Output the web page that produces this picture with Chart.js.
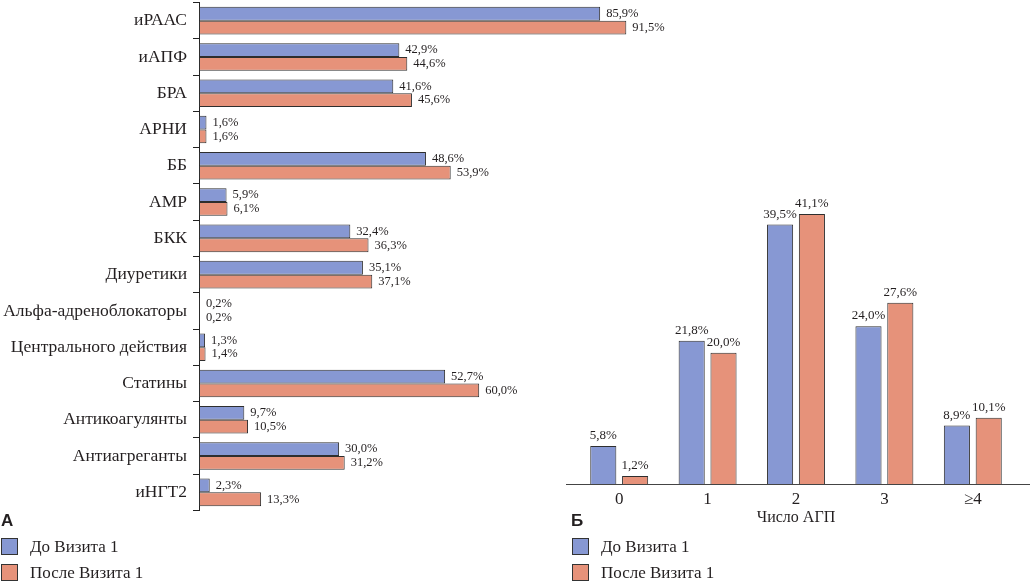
<!DOCTYPE html>
<html>
<head>
<meta charset="utf-8">
<script src="https://cdn.jsdelivr.net/npm/chart.js@4.4.1/dist/chart.umd.min.js"></script>
<style>
    body { margin: 0; background: #fff; width: 1033px; height: 588px; position: relative; overflow: hidden; font-family: 'Liberation Serif', 'Times New Roman', serif; color: #231f20; }
    #drugWrap { position: absolute; left: 0; top: -14px; width: 700px; height: 541px; }
    #agpWrap { position: absolute; left: 560px; top: 180px; width: 473px; height: 350px; }
    .panel { position: absolute; font-family: 'Liberation Sans', Arial, sans-serif; font-weight: bold; font-size: 17px; }
    .leg { position: absolute; font-size: 17px; line-height: 18px; }
    .leg span { position: absolute; top: 0; width: 17px; height: 17px; border: 1px solid #333; box-sizing: border-box; }
    .leg b { font-weight: normal; position: absolute; top: 0; white-space: nowrap; }
</style>
</head>
<body>
<div id="drugWrap"><canvas id="drugChart"></canvas></div>
<div id="agpWrap"><canvas id="agpChart"></canvas></div>

<div class="panel" style="left:1px; top:511px;">А</div>
<div class="panel" style="left:571px; top:511px;">Б</div>

<div class="leg" style="left:1px; top:538px;"><span style="background:#8798d3;"></span><b style="left:29px;">До Визита 1</b></div>
<div class="leg" style="left:1px; top:564px;"><span style="background:#e6927a;"></span><b style="left:29px;">После Визита 1</b></div>
<div class="leg" style="left:572px; top:538px;"><span style="background:#8798d3;"></span><b style="left:29px;">До Визита 1</b></div>
<div class="leg" style="left:572px; top:564px;"><span style="background:#e6927a;"></span><b style="left:29px;">После Визита 1</b></div>

<script>
// Drug classes (panel A)
const drugLabels = ['иРААС', 'иАПФ', 'БРА', 'АРНИ', 'ББ', 'АМР', 'БКК', 'Диуретики',
    'Альфа-адреноблокаторы', 'Центрального действия', 'Статины', 'Антикоагулянты', 'Антиагреганты', 'иНГТ2'];
const drugBefore = [85.9, 42.9, 41.6, 1.6, 48.6, 5.9, 32.4, 35.1, 0.2, 1.3, 52.7, 9.7, 30.0, 2.3];
const drugAfter = [91.5, 44.6, 45.6, 1.6, 53.9, 6.1, 36.3, 37.1, 0.2, 1.4, 60.0, 10.5, 31.2, 13.3];

// Number of antihypertensive drugs (panel B)
const agpLabels = ['0', '1', '2', '3', '≥4'];
const agpBefore = [5.8, 21.8, 39.5, 24.0, 8.9];
const agpAfter = [1.2, 20.0, 41.1, 27.6, 10.1];

const seriesNames = ['До Визита 1', 'После Визита 1'];
const blue = '#8798d3';
const red = '#e6927a';
const edge = '#2e2e2e';
const serif = "'Liberation Serif', 'Times New Roman', serif";

Chart.defaults.font.family = serif;
Chart.defaults.color = '#231f20';

function fmt(v) {
    return v.toFixed(1).replace('.', ',') + '%';
}

// Value labels next to / above bars
const valueLabels = {
    id: 'valueLabels',
    afterDatasetsDraw(chart, args, opts) {
        const ctx = chart.ctx;
        ctx.save();
        ctx.fillStyle = '#231f20';
        ctx.font = opts.size + 'px ' + serif;
        chart.data.datasets.forEach((ds, i) => {
            chart.getDatasetMeta(i).data.forEach((bar, j) => {
                const text = fmt(ds.data[j]);
                if (opts.horizontal) {
                    ctx.textAlign = 'left';
                    ctx.textBaseline = 'middle';
                    ctx.fillText(text, bar.x + 6, bar.y);
                } else {
                    ctx.textAlign = 'center';
                    ctx.textBaseline = 'alphabetic';
                    ctx.fillText(text, bar.x, bar.y - 7);
                }
            });
        });
        ctx.restore();
    }
};

// Baseline of panel B runs a bit past the bars
const baseLine = {
    id: 'baseLine',
    afterDraw(chart) {
        const ctx = chart.ctx;
        const a = chart.chartArea;
        ctx.save();
        ctx.strokeStyle = '#444';
        ctx.lineWidth = 1;
        ctx.beginPath();
        ctx.moveTo(a.left - 9, a.bottom + 0.5);
        ctx.lineTo(a.right + 13, a.bottom + 0.5);
        ctx.stroke();
        ctx.restore();
    }
};

new Chart(document.getElementById('drugChart'), {
    type: 'bar',
    data: {
        labels: drugLabels,
        datasets: [
            { label: seriesNames[0], data: drugBefore, backgroundColor: blue, borderColor: edge, borderWidth: 1, borderSkipped: false },
            { label: seriesNames[1], data: drugAfter, backgroundColor: red, borderColor: edge, borderWidth: 1, borderSkipped: false }
        ]
    },
    options: {
        indexAxis: 'y',
        responsive: true,
        maintainAspectRatio: false,
        animation: false,
        layout: { padding: { top: 1, bottom: 1, right: 34 } },
        datasets: { bar: { categoryPercentage: 0.76, barPercentage: 1 } },
        scales: {
            x: { display: false, min: 0, max: 100 },
            y: {
                afterFit(scale) { scale.width = 199; },
                border: { display: true, color: '#222', width: 1 },
                grid: { display: true, drawOnChartArea: false, tickLength: 6, color: '#222' },
                ticks: { padding: 6, font: { size: 17.5 }, color: '#231f20' }
            }
        },
        plugins: {
            legend: { display: false },
            tooltip: { enabled: false },
            valueLabels: { horizontal: true, size: 12.5 }
        }
    },
    plugins: [valueLabels]
});

new Chart(document.getElementById('agpChart'), {
    type: 'bar',
    data: {
        labels: agpLabels,
        datasets: [
            { label: seriesNames[0], data: agpBefore, backgroundColor: blue, borderColor: edge, borderWidth: 1, borderSkipped: 'bottom' },
            { label: seriesNames[1], data: agpAfter, backgroundColor: red, borderColor: edge, borderWidth: 1, borderSkipped: 'bottom' }
        ]
    },
    options: {
        responsive: true,
        maintainAspectRatio: false,
        animation: false,
        layout: { padding: { left: 15, right: 16, top: 15, bottom: 0 } },
        datasets: { bar: { categoryPercentage: 0.72, barPercentage: 0.82 } },
        scales: {
            y: { display: false, min: 0, max: 44 },
            x: {
                afterFit(scale) { scale.height = 46; },
                border: { display: false },
                grid: { display: false, drawTicks: false },
                ticks: { padding: 5, font: { size: 17 }, color: '#231f20' },
                title: { display: true, text: 'Число АГП', font: { size: 16 }, color: '#231f20', padding: { top: 2, bottom: 3 } }
            }
        },
        plugins: {
            legend: { display: false },
            tooltip: { enabled: false },
            valueLabels: { horizontal: false, size: 13 }
        }
    },
    plugins: [valueLabels, baseLine]
});
</script>
</body>
</html>
